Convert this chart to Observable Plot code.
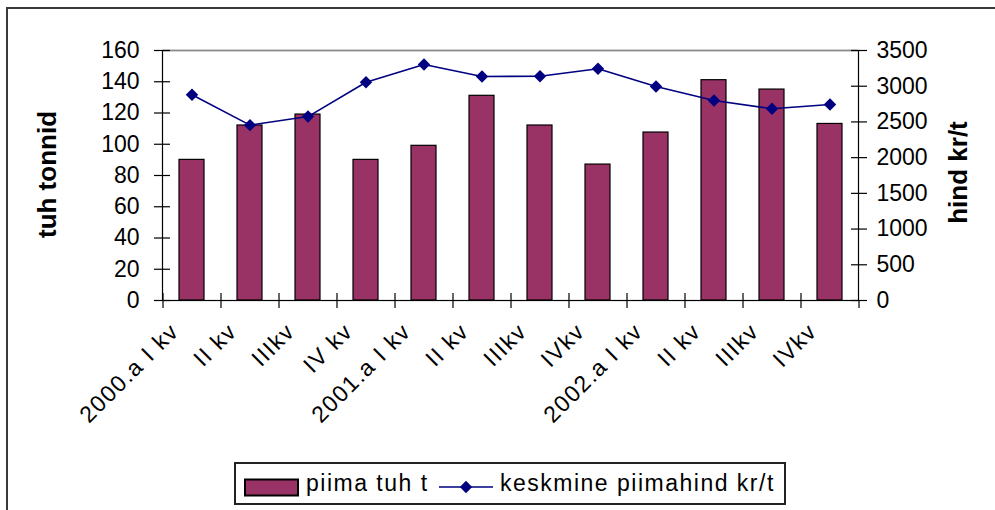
<!DOCTYPE html>
<html>
<head>
<meta charset="utf-8">
<script src="https://cdn.jsdelivr.net/npm/d3@7"></script>
<script src="https://cdn.jsdelivr.net/npm/@observablehq/plot@0.6"></script>
<style>
  body { margin: 0; background: #fff; }
  #wrap { position: relative; width: 995px; height: 510px; overflow: hidden; background: #fff;
          font-family: "Liberation Sans", Arial, sans-serif; color: #000; }
  #border { position: absolute; left: 6px; top: 7px; width: 2000px; height: 2000px;
            border: 2px solid #3a3a3a; box-sizing: border-box; pointer-events: none; }
  #chart { position: absolute; left: 0; top: 0; }
  #chart g[aria-label="x-axis tick label"] text { letter-spacing: 1.5px; }
  #legend { position: absolute; left: 234px; top: 462px; width: 552px; height: 43px;
            border: 2px solid #222; box-sizing: border-box; background: #fff; }
  #legend .sym { position: absolute; }
  #legend span { position: absolute; top: 6px; font-size: 23px; line-height: 27px; letter-spacing: 1.5px; white-space: nowrap; }
</style>
</head>
<body>
<div id="wrap">
  <div id="chart"></div>
  <div id="legend"></div>
  <div id="border"></div>
</div>
<script>
// ---- data ----
const categories = ["2000.a I kv", "II kv", "IIIkv", "IV kv", "2001.a I kv", "II kv", "IIIkv", "IVkv",
                    "2002.a I kv", "II kv", "IIIkv", "IVkv"];
const milk  = [90, 112, 119, 90, 99, 131, 112, 87, 107.5, 141, 135, 113];        // piima tuh t
const price = [2880, 2455, 2575, 3055, 3305, 3135, 3140, 3245, 2995, 2800, 2685, 2745]; // kr/t
const leftTicks  = [0, 20, 40, 60, 80, 100, 120, 140, 160];
const rightTicks = [0, 500, 1000, 1500, 2000, 2500, 3000, 3500];
const seriesNames = ["piima tuh t", "keskmine piimahind kr/t"];
const leftTitle = "tuh tonnid";
const rightTitle = "hind kr/t";

const barColor = "#993366";
const lineColor = "#000080";

const leftMax = 160, rightMax = 3500;
const k = leftMax / rightMax;
const rows = categories.map((c, i) => ({i, label: c, milk: milk[i], price: price[i]}));
const rightTickPos = rightTicks.map(v => v * k);

const chart = Plot.plot({
  width: 995,
  height: 455,
  marginLeft: 162,
  marginRight: 137,
  marginTop: 50,
  marginBottom: 155,
  style: {fontFamily: '"Liberation Sans", Arial, sans-serif', fontSize: "23px", color: "#000", background: "transparent", overflow: "visible"},
  x: {domain: d3.range(categories.length), paddingInner: 0.57, paddingOuter: 0.285, axis: null, label: null},
  y: {domain: [0, leftMax], axis: null, label: null},
  marks: [
    Plot.barY(rows, {x: "i", y: "milk", fill: barColor, stroke: "#000", strokeWidth: 1.2}),
    Plot.frame({stroke: "#000", strokeWidth: 1.2}),
    Plot.ruleY([leftMax], {stroke: "#8c8c8c", strokeWidth: 1.5, insetLeft: 1, insetRight: 1}),
    // x boundary ticks
    Plot.ruleX(rows, {x: "i", dx: -29, y1: 0, y2: 0, insetTop: -7, insetBottom: -8, stroke: "#000", strokeWidth: 1.2}),
    Plot.ruleX(rows.slice(-1), {x: "i", dx: 29, y1: 0, y2: 0, insetTop: 0, insetBottom: -8, stroke: "#000", strokeWidth: 1.2}),
    // left axis: crossing ticks + labels
    Plot.axisY({anchor: "left", ticks: leftTicks, tickSize: 16, dx: 8, tickFormat: () => "", label: null, strokeWidth: 1.2}),
    Plot.axisY({anchor: "left", ticks: leftTicks, tickSize: 0, tickPadding: 23, label: null, fontSize: 23}),
    // right axis
    Plot.axisY({anchor: "right", ticks: rightTickPos, tickSize: 16, dx: -8, tickFormat: () => "", label: null, strokeWidth: 1.2}),
    Plot.axisY({anchor: "right", ticks: rightTickPos, tickFormat: d => String(Math.round(d / k)),
                tickSize: 0, tickPadding: 18, label: null, fontSize: 23}),
    // x labels
    Plot.axisX({anchor: "bottom", tickFormat: i => categories[i], tickRotate: -45, tickSize: 0,
                tickPadding: 27, dx: -17, label: null, fontSize: 23}),
    // axis titles
    Plot.text([leftTitle], {frameAnchor: "left", textAnchor: "middle", dx: -115, dy: -1, rotate: -90, fontSize: 26, fontWeight: "bold", lineAnchor: "middle"}),
    Plot.text([rightTitle], {frameAnchor: "right", textAnchor: "middle", dx: 100, dy: -3, rotate: -90, fontSize: 26, fontWeight: "bold", lineAnchor: "middle"}),
    // price line
    Plot.line(rows, {x: "i", y: d => d.price * k, stroke: lineColor, strokeWidth: 1.6}),
    Plot.dot(rows, {x: "i", y: d => d.price * k, symbol: "diamond2", r: 5.6, fill: lineColor, stroke: "none"})
  ]
});
document.getElementById("chart").appendChild(chart);

// ---- legend ----
const legend = document.getElementById("legend");
function add(html) { legend.insertAdjacentHTML("beforeend", html); }
add(`<svg class="sym" style="left:8px;top:14px" width="58" height="20"><rect x="1" y="1.5" width="53" height="16" fill="${barColor}" stroke="#000" stroke-width="2"/></svg>`);
add(`<span style="left:70px">${seriesNames[0]}</span>`);
add(`<svg class="sym" style="left:202px;top:13px" width="58" height="20"><line x1="1" x2="55" y1="10" y2="10" stroke="${lineColor}" stroke-width="1.6"/><path d="M28,3.8L34.2,10L28,16.2L21.8,10Z" fill="${lineColor}"/></svg>`);
add(`<span style="left:264px">${seriesNames[1]}</span>`);
</script>
</body>
</html>
